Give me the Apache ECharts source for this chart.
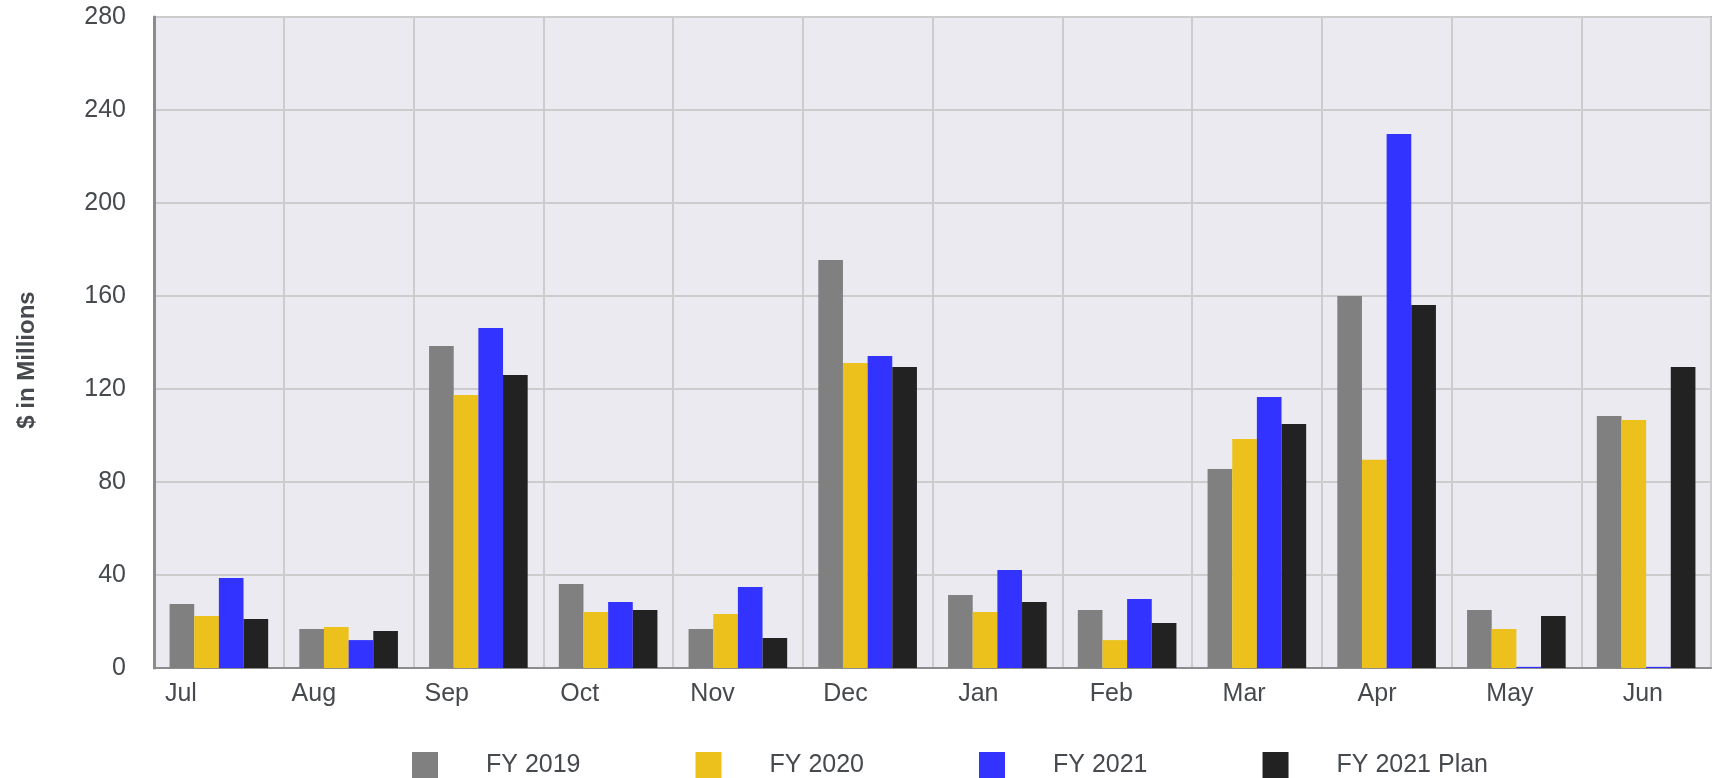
<!DOCTYPE html>
<html>
<head>
<meta charset="utf-8">
<title>Monthly revenue</title>
<script src="https://cdn.jsdelivr.net/npm/echarts@6/dist/echarts.min.js"></script>
<style>
    html, body { margin: 0; padding: 0; background: #fff; }
    #revenue-chart { width: 1712px; height: 778px; }
</style>
</head>
<body>
<div id="revenue-chart"></div>
<script>
    var months = ['Jul', 'Aug', 'Sep', 'Oct', 'Nov', 'Dec', 'Jan', 'Feb', 'Mar', 'Apr', 'May', 'Jun'];
    var seriesNames = ['FY 2019', 'FY 2020', 'FY 2021', 'FY 2021 Plan'];

    var fy2019 = [27.5, 16.8, 138.5, 36.1, 16.8, 175.5, 31.4, 24.9, 85.6, 160.0, 24.9, 108.4];
    var fy2020 = [22.4, 17.6, 117.4, 24.1, 23.2, 131.2, 24.1, 12.0, 98.5, 89.6, 16.8, 106.7];
    var fy2021 = [38.7, 12.0, 146.2, 28.4, 34.8, 134.2, 42.2, 29.7, 116.6, 229.7, 0.5, 0.5];
    var fy2021Plan = [21.1, 15.9, 126.0, 24.9, 12.9, 129.5, 28.4, 19.4, 104.9, 156.1, 22.4, 129.5];

    var colors = ['#808080', '#ecc11c', '#3333ff', '#222222'];
    var textColor = '#46494d';
    var font = 'Liberation Sans, Arial, sans-serif';

    var myChart = echarts.init(document.getElementById('revenue-chart'));

    option = {
        animation: false,
        color: colors,
        textStyle: { fontFamily: font },
        legend: {
            left: 407,
            top: 747,
            itemWidth: 26,
            itemHeight: 26,
            itemGap: 115,
            icon: 'rect',
            textStyle: {
                fontSize: 25,
                color: textColor,
                padding: [0, 0, 0, 43]
            },
            data: seriesNames
        },
        grid: [
            // plot area
            { left: 154, right: 1, top: 17, bottom: 110, show: true,
              backgroundColor: '#ebeaf0', borderColor: '#a6a6a6', borderWidth: 2 },
            // month labels sit on a slightly wider spacing than the bars
            { left: 114.5, right: 2.7, top: 17, bottom: 110 }
        ],
        xAxis: [
            {
                type: 'category',
                gridIndex: 0,
                data: months,
                axisLine: { lineStyle: { color: '#8c8c8c', width: 2 } },
                axisTick: { show: false },
                axisLabel: { show: false },
                splitLine: { show: true, lineStyle: { color: '#cccccc', width: 2 } }
            },
            {
                type: 'category',
                gridIndex: 1,
                data: months,
                axisLine: { show: false },
                axisTick: { show: false },
                axisLabel: { fontSize: 25, color: textColor, margin: 14 },
                splitLine: { show: false }
            }
        ],
        yAxis: [
            {
                type: 'value',
                gridIndex: 0,
                min: 0,
                max: 280,
                interval: 40,
                name: '$ in Millions',
                nameLocation: 'middle',
                nameRotate: 90,
                nameGap: 115,
                nameTextStyle: {
                    fontSize: 24,
                    fontWeight: 'bold',
                    color: textColor,
                    padding: [0, 35, 0, 0]
                },
                axisLine: { show: true, lineStyle: { color: '#8c8c8c', width: 3 } },
                axisTick: { show: false },
                axisLabel: { fontSize: 25, color: textColor, margin: 28 },
                splitLine: { lineStyle: { color: '#cccccc', width: 2 } }
            },
            { type: 'value', gridIndex: 1, show: false }
        ],
        series: [
            { name: seriesNames[0], type: 'bar', data: fy2019, barGap: 0, barCategoryGap: '24%' },
            { name: seriesNames[1], type: 'bar', data: fy2020, barGap: 0, barCategoryGap: '24%' },
            { name: seriesNames[2], type: 'bar', data: fy2021, barGap: 0, barCategoryGap: '24%' },
            { name: seriesNames[3], type: 'bar', data: fy2021Plan, barGap: 0, barCategoryGap: '24%' }
        ]
    };

    myChart.setOption(option);
</script>
</body>
</html>
